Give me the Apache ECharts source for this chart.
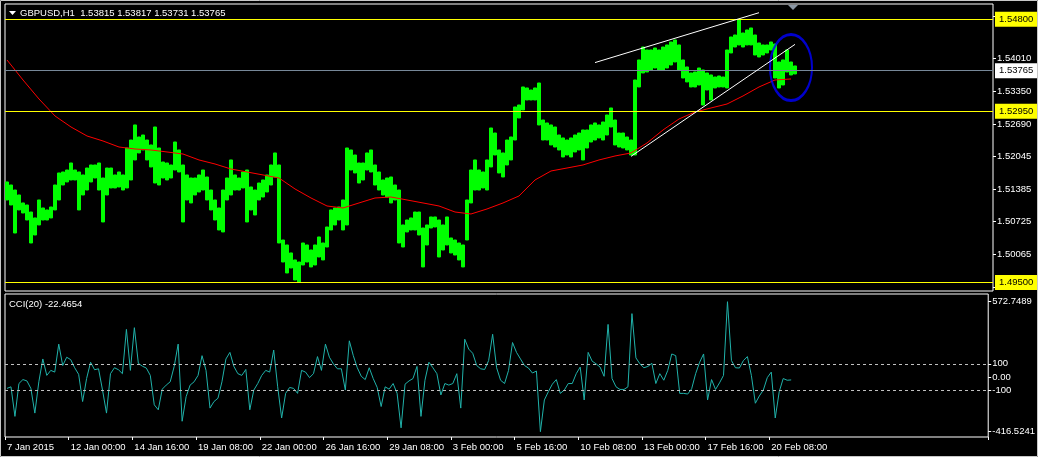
<!DOCTYPE html>
<html><head><meta charset="utf-8">
<script src="https://cdn.jsdelivr.net/npm/echarts@6/dist/echarts.min.js"></script>
<style>html,body{margin:0;padding:0;background:#000;overflow:hidden}#c{width:1038px;height:457px}</style>
</head><body><div id="c"></div>
<script>
// ---- data (4-hour bars) ----
const lows = [
1.51162,1.51061,1.50497,1.50961,1.50900,1.50759,1.50296,1.50457,1.50659,1.50759,
1.50759,1.50800,1.50961,1.51162,1.51464,1.51525,1.51565,1.51565,1.50961,1.51263,
1.51363,1.51525,1.51605,1.51363,1.50719,1.51263,1.51404,1.51404,1.51424,1.51363,
1.51404,1.51565,1.51968,1.52109,1.52169,1.51968,1.51827,1.51504,1.51464,1.51605,
1.51565,1.51605,1.51766,1.51726,1.50719,1.51162,1.51102,1.51263,1.51323,1.51363,
1.51162,1.50961,1.50759,1.50558,1.50518,1.51162,1.51263,1.51363,1.51363,1.51404,
1.50719,1.50961,1.50860,1.51162,1.51222,1.51323,1.51464,1.51625,1.50296,1.49913,
1.49692,1.49793,1.49551,1.49500,1.49853,1.49913,1.49813,1.49853,1.50014,1.49954,
1.50215,1.50558,1.50659,1.50759,1.50558,1.50659,1.51766,1.51706,1.51504,1.51565,
1.51766,1.51726,1.51464,1.51363,1.51263,1.51222,1.51102,1.51162,1.50296,1.50215,
1.50518,1.50558,1.50558,1.50457,1.49813,1.50256,1.50598,1.50618,1.50014,1.50155,
1.50256,1.50095,1.50054,1.49954,1.49813,1.50356,1.51102,1.51363,1.51363,1.51404,
1.51363,1.51827,1.52068,1.51706,1.51625,1.51867,1.51968,1.52370,1.52814,1.52975,
1.53176,1.53176,1.53176,1.52673,1.52370,1.52370,1.52270,1.52229,1.52169,1.52028,
1.52068,1.52028,1.52129,1.52169,1.51968,1.52209,1.52330,1.52370,1.52411,1.52370,
1.52471,1.52632,1.52270,1.52229,1.52209,1.52169,1.52068,1.52068,1.53438,1.53720,
1.53740,1.53780,1.53820,1.53780,1.53780,1.53820,1.53881,1.53941,1.53780,1.53619,
1.53539,1.53438,1.53438,1.53478,1.53075,1.53377,1.53176,1.53418,1.53438,1.53438,
1.53418,1.54123,1.54243,1.54284,1.54243,1.54284,1.54284,1.54082,1.54042,1.54082,
1.54123,1.54183,1.53619,1.53418,1.53478,1.53740,1.53680,1.53700];
const highs = [
1.51525,1.51464,1.51363,1.51263,1.51102,1.51061,1.50920,1.50800,1.51162,1.51001,
1.50961,1.51021,1.51464,1.51706,1.51726,1.51766,1.51907,1.51766,1.51726,1.51666,
1.51806,1.51867,1.51867,1.51907,1.51605,1.51806,1.51806,1.51666,1.51726,1.51666,
1.52209,1.52370,1.52673,1.52431,1.52471,1.52370,1.52270,1.52632,1.52209,1.51927,
1.51907,1.51867,1.52330,1.52169,1.51867,1.51666,1.51605,1.51605,1.51666,1.51766,
1.51625,1.51363,1.51162,1.51001,1.51363,1.51605,1.51968,1.51666,1.51605,1.51726,
1.51766,1.51424,1.51363,1.51504,1.51565,1.51666,1.51867,1.52109,1.51867,1.50356,
1.50256,1.50095,1.49954,1.49913,1.50296,1.50256,1.50155,1.50256,1.50417,1.50296,
1.50618,1.50961,1.51001,1.51021,1.51162,1.52209,1.52169,1.52068,1.51907,1.51907,
1.52109,1.52169,1.51867,1.51726,1.51565,1.51605,1.51625,1.51464,1.51363,1.50659,
1.50759,1.50800,1.50920,1.50920,1.50598,1.50659,1.50820,1.50820,1.50759,1.50659,
1.50820,1.50397,1.50356,1.50296,1.50256,1.51162,1.51766,1.51968,1.51766,1.51726,
1.51968,1.52612,1.52511,1.52169,1.52109,1.52370,1.52431,1.53035,1.53075,1.53438,
1.53418,1.53377,1.53418,1.53518,1.52773,1.52713,1.52673,1.52632,1.52471,1.52411,
1.52370,1.52411,1.52471,1.52511,1.52572,1.52572,1.52673,1.52713,1.52673,1.52733,
1.52874,1.53015,1.52773,1.52511,1.52511,1.52431,1.52370,1.53579,1.53982,1.54243,
1.54183,1.54183,1.54223,1.54183,1.54243,1.54284,1.54344,1.54384,1.54284,1.53982,
1.53841,1.53720,1.53740,1.53820,1.53780,1.53720,1.53680,1.53639,1.53659,1.53639,
1.54183,1.54445,1.54485,1.54800,1.54525,1.54586,1.54626,1.54485,1.54324,1.54284,
1.54284,1.54344,1.54304,1.53941,1.53982,1.54183,1.53941,1.53861];
// moving average, one reading every 4th bar
const maValues = [
1.53982,1.53579,1.53196,1.52854,1.52632,1.52451,1.52350,1.52229,1.52189,1.52169,
1.52129,1.52088,1.51968,1.51887,1.51786,1.51726,1.51666,1.51605,1.51384,1.51202,
1.51041,1.51001,1.51102,1.51202,1.51222,1.51162,1.51102,1.51041,1.50920,1.50880,
1.50981,1.51102,1.51243,1.51565,1.51746,1.51806,1.51867,1.51968,1.52048,1.52109,
1.52310,1.52572,1.52793,1.52934,1.53015,1.53095,1.53257,1.53438,1.53579,1.53599];
const cciValues = [
-87,-75,-300,-50,-20,-30,-87,-275,-37,137,
12,50,37,250,87,150,132,70,20,-187,
-12,112,55,62,-100,-275,25,70,55,25,
362,50,375,104,82,68,12,-212,-250,-93,
-62,-37,80,250,-337,-150,-62,-37,12,162,
50,-237,-187,-162,-37,137,187,80,25,12,
57,-250,-100,-50,12,50,37,205,-75,-312,
-125,-80,-87,-125,50,37,-5,25,155,50,
250,150,100,62,62,-100,275,162,70,5,
-20,70,-12,-80,-225,-75,-93,-50,-125,-387,
-55,-30,-12,80,-300,-25,112,70,25,-137,
-50,-62,-50,25,-237,287,212,180,87,62,
57,125,325,70,-25,-50,50,262,187,137,
87,68,30,45,-416.5241,-175,-112,-55,-20,-125,
-100,-50,-50,25,75,-175,187,120,100,75,
5,400,-12,-75,-95,-95,-75,482,145,100,
70,80,104,-50,25,-25,50,175,162,-125,
-125,-130,-90,25,112,175,-175,-20,-95,-45,
12,572.7489,125,70,68,125,155,12,-200,-145,
-100,-5,37,-312,-112,-12,-25,-22.4654];
const priceTicks = [1.54870,1.54010,1.53350,1.52690,1.52045,1.51385,1.50725,1.50065,1.49405];
const cciTicks = [572.7489,100,0,-100,-416.5241];
const cciLevels = [100,-100];
const levelLines = [1.54800,1.52950,1.49500];
const lastPrice = 1.53765;
const tickLabels = ['7 Jan 2015','12 Jan 00:00','14 Jan 16:00','19 Jan 08:00','22 Jan 00:00','26 Jan 16:00','29 Jan 08:00','3 Feb 00:00','5 Feb 16:00','10 Feb 08:00','13 Feb 00:00','17 Feb 16:00','20 Feb 08:00'];
const trendUpper = [[147,1.53929],[188,1.54934]];
const trendLower = [[156,1.52040],[197,1.54296]];
const circled = [196,1.53831];
const titleText = 'GBPUSD,H1  1.53815 1.53817 1.53731 1.53765';
const cciTitle = 'CCI(20) -22.4654';

// ---- categories: 4-hour slots, weekends skipped ----
const MONTHS=['Jan','Feb','Mar','Apr','May','Jun','Jul','Aug','Sep','Oct','Nov','Dec'];
const categories=[];
let t=Date.UTC(2015,0,7,8);
while(categories.length<247){
  const d=new Date(t), wd=d.getUTCDay();
  if(wd!==0&&wd!==6){categories.push(d.getUTCDate()+' '+MONTHS[d.getUTCMonth()]+' '+String(d.getUTCHours()).padStart(2,'0')+':00');}
  t+=4*3600*1000;
}

const FONT="'Liberation Sans',Arial,sans-serif";
const FS=9.5;
const candle = lows.map((l,i)=>[l,highs[i],l,highs[i]]);
const ma = lows.map((_,i)=> i%4===0 ? maValues[i/4] : null);
const showTick = (i)=> i%16===0 && tickLabels[i/16]!==undefined;

function levelLabel(v,bg){
  return {show:true,position:'end',distance:2,formatter:v.toFixed(5),backgroundColor:bg,color:'#000',
    padding:[3,4,2,4],fontFamily:FONT,fontSize:FS};
}
const levelData = levelLines.map(v=>({yAxis:v,lineStyle:{color:'#ffff00',width:1,type:'solid'},label:levelLabel(v,'#ffff00')}));
levelData.push({yAxis:lastPrice,lineStyle:{color:'#778899',width:1,type:'solid'},label:levelLabel(lastPrice,'#ffffff')});
const trendData = [trendUpper,trendLower].map(tl=>[
  {coord:[categories[tl[0][0]],tl[0][1]]},
  {coord:[categories[tl[1][0]],tl[1][1]]}]);

const chart=echarts.init(document.getElementById('c'),null,{renderer:'canvas'});
chart.setOption({
  animation:false,
  backgroundColor:'#000',
  grid:[
    {left:5,top:4,width:988,height:287,show:true,borderColor:'#ffffff',borderWidth:1,backgroundColor:'#000'},
    {left:5,top:294,width:988,height:143,show:true,borderColor:'#ffffff',borderWidth:1,backgroundColor:'#000'}
  ],
  xAxis:[
    {type:'category',gridIndex:0,data:categories,boundaryGap:true,show:false},
    {type:'category',gridIndex:1,data:categories,boundaryGap:true,
     axisLine:{show:false,onZero:false},
     axisTick:{show:true,interval:showTick,length:3,lineStyle:{color:'#ffffff'}},
     axisLabel:{interval:showTick,align:'left',margin:5,color:'#ffffff',fontFamily:FONT,fontSize:FS,
       formatter:(v,i)=>tickLabels[i/16]||''}}
  ],
  yAxis:[
    {type:'value',gridIndex:0,position:'right',min:1.49329,max:1.55109,
     splitLine:{show:false},axisLine:{show:false},
     axisTick:{show:true,customValues:priceTicks,length:3,lineStyle:{color:'#ffffff'}},
     axisLabel:{customValues:priceTicks,formatter:v=>v.toFixed(5),color:'#ffffff',fontFamily:FONT,fontSize:FS,margin:4}},
    {type:'value',gridIndex:1,position:'right',min:-456.9,max:631.3,
     splitLine:{show:false},axisLine:{show:false},
     axisTick:{show:true,customValues:cciTicks,length:3,lineStyle:{color:'#ffffff'}},
     axisLabel:{customValues:cciTicks,color:'#ffffff',fontFamily:FONT,fontSize:FS,margin:4,
       formatter:v=> v===0?'0.00':(Number.isInteger(v)?String(v):v.toFixed(4))}}
  ],
  series:[
    {type:'candlestick',xAxisIndex:0,yAxisIndex:0,data:candle,barWidth:4,
     itemStyle:{color:'#00ff00',color0:'#00ff00',borderColor:'#00ff00',borderColor0:'#00ff00',borderWidth:1}},
    {type:'line',xAxisIndex:0,yAxisIndex:0,data:ma,connectNulls:true,showSymbol:false,symbol:'none',
     lineStyle:{color:'#ff0000',width:1},z:3,
     markLine:{silent:true,precision:5,symbol:['none','none'],animation:false,data:levelData}},
    {type:'line',xAxisIndex:0,yAxisIndex:0,data:[],z:3,
     markLine:{silent:true,precision:5,symbol:['none','none'],animation:false,label:{show:false},
       lineStyle:{color:'#ffffff',width:1,type:'solid'},data:trendData}},
    {type:'scatter',xAxisIndex:0,yAxisIndex:0,data:[[categories[circled[0]],circled[1]]],symbol:'circle',
     symbolSize:[42,66],itemStyle:{color:'rgba(0,0,0,0)',borderColor:'#0000ff',borderWidth:2.5},z:4},
    {type:'line',xAxisIndex:1,yAxisIndex:1,data:cciValues,showSymbol:false,symbol:'none',
     lineStyle:{color:'#20b2aa',width:1},
     markLine:{silent:true,precision:5,symbol:['none','none'],label:{show:false},
       lineStyle:{color:'#c0c0c0',type:[3,3],width:1},data:cciLevels.map(v=>({yAxis:v}))}}
  ],
  graphic:[
    {type:'rect',shape:{x:0.5,y:0.5,width:1037,height:456},style:{fill:'none',stroke:'#c8c8c8',lineWidth:1},z:100},
    {type:'polygon',shape:{points:[[9,11],[16,11],[12.5,15]]},style:{fill:'#ffffff'}},
    {type:'text',left:20,top:8,style:{text:titleText,fill:'#ffffff',font:FS+'px '+FONT}},
    {type:'text',left:9,top:299,style:{text:cciTitle,fill:'#ffffff',font:FS+'px '+FONT}},
    {type:'polygon',shape:{points:[[788,5],[798,5],[793,10]]},style:{fill:'#8a96a3'}}
  ]
});
</script></body></html>
